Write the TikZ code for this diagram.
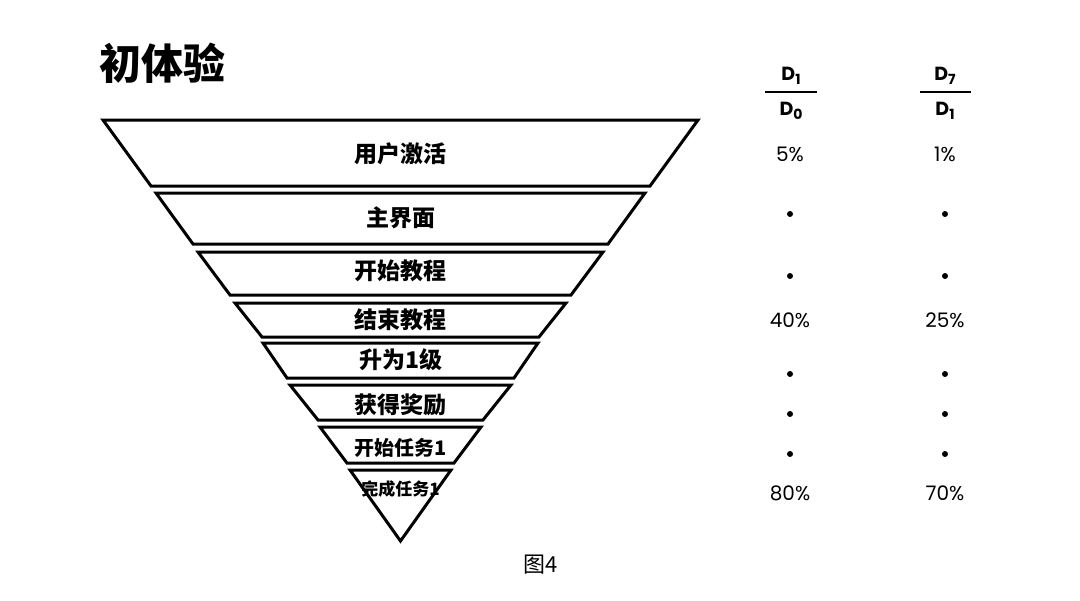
\documentclass[tikz,border=0pt]{standalone}
\usepackage{fontspec}
\newfontfamily\cjk{Noto Sans CJK SC}
\newfontfamily\numf{Poppins}
\newcommand\dsub[1]{\raisebox{-0.35ex}{\fontsize{7}{8}\selectfont #1}}
\tikzset{
  band/.style={draw=black, line width=1.5pt, line join=miter, fill=white},
  blabel/.style={font=\cjk\bfseries\fontsize{11.5}{12}\selectfont, inner sep=0pt},
  pct/.style={font=\numf\fontsize{10}{12}\selectfont, inner sep=0pt},
  dfrac/.style={font=\numf\bfseries\fontsize{9.5}{11}\selectfont, inner sep=0pt},
  dotm/.style={circle, fill=black, inner sep=0pt, minimum size=3pt}
}
\begin{document}
\begin{tikzpicture}[x=0.5pt,y=-0.5pt]
\useasboundingbox (0,0) rectangle (1080,600);
% title
\node[font=\cjk\bfseries\fontsize{21}{24}\selectfont, anchor=west, inner sep=0pt] (title) at (99,63) {初体验};
% funnel bands (mirror about x=400.5)
\draw[band] (103,120) -- (698,120) -- (650,186) -- (151,186) -- cycle;
\draw[band] (156,193) -- (645,193) -- (608,244) -- (193,244) -- cycle;
\draw[band] (198,252) -- (603,252) -- (571,295) -- (230,295) -- cycle;
\draw[band] (235,303) -- (566,303) -- (539,337) -- (262,337) -- cycle;
\draw[band] (263,343) -- (538,343) -- (514,378) -- (287,378) -- cycle;
\draw[band] (290,385) -- (511,385) -- (483,420) -- (318,420) -- cycle;
\draw[band] (320,427) -- (481,427) -- (454,463) -- (347,463) -- cycle;
\draw[band] (350,470) -- (451,470) -- (400.5,541) -- cycle;
% band labels
\node[blabel] (l1) at (400.5,154) {用户激活};
\node[blabel] (l2) at (400.5,218) {主界面};
\node[blabel] (l3) at (400.5,271) {开始教程};
\node[blabel] (l4) at (400.5,320) {结束教程};
\node[blabel] (l5) at (400.5,360) {升为1级};
\node[blabel] (l6) at (400.5,405) {获得奖励};
\node[blabel, font=\cjk\bfseries\fontsize{10}{12}\selectfont] (l7) at (400.5,448) {开始任务1};
\node[blabel, font=\cjk\bfseries\fontsize{8.5}{10}\selectfont] (l8) at (400.5,489) {完成任务1};
% column headers
\node[dfrac] (n1) at (791,76) {D\dsub{1}};
\node[dfrac] (d1) at (791,111) {D\dsub{0}};
\draw[line width=1.2pt] (765,92) -- (817,92);
\node[dfrac] (n2) at (945,76) {D\dsub{7}};
\node[dfrac] (d2) at (945,111) {D\dsub{1}};
\draw[line width=1.2pt] (920,92) -- (971,92);
% values column 1
\node[pct] (a1) at (790,154) {5\%};
\node[dotm] (a2) at (790,214) {};
\node[dotm] (a3) at (790,276) {};
\node[pct] (a4) at (790,320) {40\%};
\node[dotm] (a5) at (790,374) {};
\node[dotm] (a6) at (790,414) {};
\node[dotm] (a7) at (790,454) {};
\node[pct] (a8) at (790,493) {80\%};
% values column 2
\node[pct] (b1) at (945,154) {1\%};
\node[dotm] (b2) at (945,214) {};
\node[dotm] (b3) at (945,276) {};
\node[pct] (b4) at (945,320) {25\%};
\node[dotm] (b5) at (945,374) {};
\node[dotm] (b6) at (945,414) {};
\node[dotm] (b7) at (945,454) {};
\node[pct] (b8) at (945,493) {70\%};
% caption
\node[font=\cjk\fontsize{11}{13}\selectfont, inner sep=0pt] (cap) at (541,565) {图4};
\end{tikzpicture}
\end{document}
